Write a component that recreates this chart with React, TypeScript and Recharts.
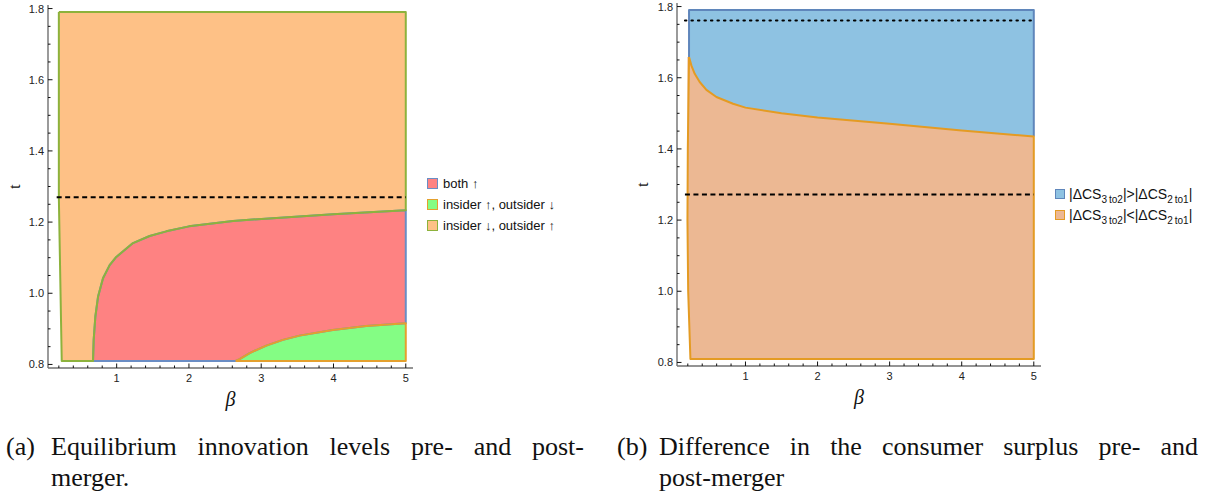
import React from 'react';
import { ComposedChart, Area, Line, XAxis, YAxis } from 'recharts';

// ---------- axis ticks ----------
const xTicks = [0.2, 0.4, 0.6, 0.8, 1, 1.2, 1.4, 1.6, 1.8, 2, 2.2, 2.4, 2.6, 2.8, 3, 3.2, 3.4, 3.6, 3.8, 4, 4.2, 4.4, 4.6, 4.8, 5];
const yTicks = [0.8, 0.85, 0.9, 0.95, 1, 1.05, 1.1, 1.15, 1.2, 1.25, 1.3, 1.35, 1.4, 1.45, 1.5, 1.55, 1.6, 1.65, 1.7, 1.75, 1.8];
const xDomain = [0.05, 5.1];
const yDomain = [0.79, 1.81];

// ---------- panel (a) data ----------
const aTMin = 0.81;
const aTMax = 1.79;
const aBetaMax = 5;
// left edge of the region plot
const aLeftEdgeBeta = [0.2, 0.2, 0.24];
const aLeftEdgeT = [1.79, 1.27, 0.81];
// upper boundary of "both ↑"
const aBothBeta = [0.673, 0.682, 0.705, 0.742, 0.811, 0.903, 0.995, 1.226, 1.456, 1.687, 2.0, 2.609, 3.006, 3.992, 5.0];
const aBothT = [0.81, 0.869, 0.934, 0.99, 1.042, 1.079, 1.102, 1.141, 1.161, 1.174, 1.188, 1.203, 1.209, 1.222, 1.233];
// upper boundary of "insider ↑, outsider ↓"
const aInsBeta = [2.646, 2.701, 2.84, 3.07, 3.3, 3.53, 3.99, 4.45, 5.0];
const aInsT = [0.81, 0.815, 0.832, 0.853, 0.869, 0.881, 0.897, 0.908, 0.916];
const aDashT = 1.27;
const aDashBeta = [0.17, 5.0];

// ---------- panel (b) data ----------
const bTMin = 0.81;
const bTMax = 1.79;
const bBetaMax = 5;
const bCurveBeta = [0.217, 0.25, 0.296, 0.365, 0.458, 0.597, 0.828, 1.0, 1.5, 2.0, 3.0, 4.0, 5.0];
const bCurveT = [1.658, 1.634, 1.611, 1.588, 1.566, 1.546, 1.527, 1.516, 1.5, 1.488, 1.471, 1.452, 1.435];
const bLeftEdgeBeta = [0.236, 0.205, 0.195, 0.2, 0.217];
const bLeftEdgeT = [0.81, 1.0, 1.2, 1.4, 1.658];
const bDashT = 1.272;
const bDotT = 1.761;
const bRefBeta = [0.16, 5.0];

// ---------- colours ----------
const A_ORANGE = '#fec186';
const A_RED = '#fe8282';
const A_GREEN = '#84fd84';
const OLIVE = '#8db23c';
const A_BLUE_EDGE = '#6a8dc4';
const A_ORANGE_EDGE = '#e4a02e';
const B_BLUE = '#8ec2e2';
const B_SALMON = '#ecb893';
const B_BLUE_EDGE = '#5f86bb';
const B_ORANGE_EDGE = '#e49b23';
const FRAME = '#707070';

const pts = (xs: number[], ys: number[]) => xs.map((x, i) => ({ x, y: ys[i] }));

// panel (a) tables
const aBoth = pts(aBothBeta, aBothT);
const aIns = pts(aInsBeta, aInsT);
const aOrangeFill = [
  { x: aLeftEdgeBeta[1], r: [aLeftEdgeT[1], aTMax] },
  { x: aLeftEdgeBeta[2], r: [aTMin, aTMax] },
  { x: aBetaMax, r: [aTMin, aTMax] },
];
const aRedFill = aBoth.map((p) => ({ x: p.x, r: [aTMin, p.y] }));
const aGreenFill = aIns.map((p) => ({ x: p.x, r: [aTMin, p.y] }));
const aBlueOutline = [
  { x: aBoth[0].x, y: aTMin },
  ...aIns,
  { x: aBetaMax, y: aBoth[aBoth.length - 1].y },
  ...[...aBoth].reverse(),
];
const aOrangeOutline = [...aIns, { x: aBetaMax, y: aTMin }, { x: aIns[0].x, y: aTMin }];
const aOliveOutline = [
  { x: aLeftEdgeBeta[0], y: aTMax },
  { x: aBetaMax, y: aTMax },
  ...[...aBoth].reverse(),
  ...pts(aLeftEdgeBeta, aLeftEdgeT).reverse(),
];
const aDash = aDashBeta.map((x) => ({ x, y: aDashT }));

// panel (b) tables
const bCurve = pts(bCurveBeta, bCurveT);
const bSalmonFill = [
  { x: bLeftEdgeBeta[2], r: [bLeftEdgeT[2], bCurveT[0]] },
  { x: bLeftEdgeBeta[1], r: [bLeftEdgeT[1], bCurveT[0]] },
  { x: bLeftEdgeBeta[0], r: [bTMin, bCurveT[0]] },
  { x: bBetaMax, r: [bTMin, bCurveT[0]] },
];
const bBlueFill = bCurve.map((p) => ({ x: p.x, r: [p.y, bTMax] }));
const bBlueOutline = [
  bCurve[0],
  { x: bCurve[0].x, y: bTMax },
  { x: bBetaMax, y: bTMax },
  bCurve[bCurve.length - 1],
];
const bOrangeOutline = [
  ...bCurve,
  { x: bBetaMax, y: bTMin },
  ...pts(bLeftEdgeBeta, bLeftEdgeT),
];
const bDash = bRefBeta.map((x) => ({ x, y: bDashT }));
const bDot = bRefBeta.map((x) => ({ x, y: bDotT }));

// ---------- tick renderers ----------
const isMajorX = (v: number) => Math.abs(v - Math.round(v)) < 1e-6;
const isMajorY = (v: number) => Math.abs(v * 5 - Math.round(v * 5)) < 1e-6;
const tickFont = { fontFamily: '"Liberation Sans", Arial, sans-serif', fontSize: 11, fill: '#222' };

const makeTick = (side: 'bottom' | 'top' | 'left' | 'right', labels: boolean) => (props: any) => {
  const { x, y, payload } = props;
  const v = payload.value as number;
  const major = side === 'bottom' || side === 'top' ? isMajorX(v) : isMajorY(v);
  const len = major ? 4.5 : 2.5;
  let x2 = x;
  let y2 = y;
  if (side === 'bottom') y2 = y - len;
  if (side === 'top') y2 = y + len;
  if (side === 'left') x2 = x + len;
  if (side === 'right') x2 = x - len;
  let label = null;
  if (labels && major) {
    if (side === 'bottom')
      label = (
        <text x={x} y={y + 14} textAnchor="middle" {...tickFont}>
          {String(Math.round(v))}
        </text>
      );
    if (side === 'left')
      label = (
        <text x={x - 4} y={y + 4} textAnchor="end" {...tickFont}>
          {v.toFixed(1)}
        </text>
      );
  }
  return (
    <g>
      <line x1={x} y1={y} x2={x2} y2={y2} stroke="#111" strokeWidth={1} />
      {label}
    </g>
  );
};

const axisLine = { stroke: FRAME, strokeWidth: 1.4 };

function renderAxes(yWidth: number, tOffset: number) {
  return [
    <XAxis
      key="xb"
      xAxisId={0}
      dataKey="x"
      type="number"
      domain={xDomain}
      allowDataOverflow
      ticks={xTicks}
      interval={0}
      tickSize={0}
      tickMargin={0}
      tickLine={false}
      axisLine={axisLine}
      tick={makeTick('bottom', true)}
      height={40}
      label={{
        value: 'β',
        position: 'insideBottom',
        offset: 2,
        style: { fontFamily: '"Liberation Serif", serif', fontStyle: 'italic', fontSize: 20, fill: '#111' },
      }}
    />,
    <XAxis
      key="xt"
      xAxisId="top"
      orientation="top"
      dataKey="x"
      type="number"
      domain={xDomain}
      allowDataOverflow
      ticks={xTicks}
      interval={0}
      tickSize={0}
      tickMargin={0}
      tickLine={false}
      axisLine={axisLine}
      tick={makeTick('top', false)}
      height={0}
    />,
    <YAxis
      key="yl"
      yAxisId={0}
      type="number"
      domain={yDomain}
      allowDataOverflow
      ticks={yTicks}
      interval={0}
      tickSize={0}
      tickMargin={0}
      tickLine={false}
      axisLine={axisLine}
      tick={makeTick('left', true)}
      width={yWidth}
      label={{
        value: 't',
        angle: -90,
        position: 'insideLeft',
        offset: tOffset,
        style: { fontFamily: '"Liberation Serif", serif', fontSize: 17, fill: '#111', textAnchor: 'middle' },
      }}
    />,
    <YAxis
      key="yr"
      yAxisId="right"
      orientation="right"
      type="number"
      domain={yDomain}
      allowDataOverflow
      ticks={yTicks}
      interval={0}
      tickSize={0}
      tickMargin={0}
      tickLine={false}
      axisLine={axisLine}
      tick={makeTick('right', false)}
      width={0}
    />,
  ];
}

const outline = (data: any[], color: string, key: string, width = 2) => (
  <Line
    key={key}
    data={data}
    dataKey="y"
    type="linear"
    stroke={color}
    strokeWidth={width}
    strokeLinejoin="round"
    dot={false}
    activeDot={false}
    isAnimationActive={false}
  />
);

function PanelA() {
  return (
    <ComposedChart width={420} height={418} margin={{ top: 5, right: 7, bottom: 10, left: 0 }} style={{ overflow: 'visible' }}>
      {renderAxes(48, 14)}
      <Area data={aOrangeFill} dataKey="r" type="linear" fill={A_ORANGE} fillOpacity={1} stroke="none" isAnimationActive={false} />
      <Area data={aRedFill} dataKey="r" type="linear" fill={A_RED} fillOpacity={1} stroke="none" isAnimationActive={false} />
      <Area data={aGreenFill} dataKey="r" type="linear" fill={A_GREEN} fillOpacity={1} stroke="none" isAnimationActive={false} />
      {outline(aBlueOutline, A_BLUE_EDGE, 'ab')}
      {outline(aOrangeOutline, A_ORANGE_EDGE, 'ao')}
      {outline(aOliveOutline, OLIVE, 'aol')}
      <Line data={aDash} dataKey="y" type="linear" stroke="#000" strokeWidth={2} strokeDasharray="5 3.5" dot={false} activeDot={false} isAnimationActive={false} />
    </ComposedChart>
  );
}

function PanelB() {
  return (
    <ComposedChart width={428} height={416} margin={{ top: 3, right: 7, bottom: 10, left: 0 }} style={{ overflow: 'visible' }}>
      {renderAxes(57, 22)}
      <Area data={bSalmonFill} dataKey="r" type="linear" fill={B_SALMON} fillOpacity={1} stroke="none" isAnimationActive={false} />
      <Area data={bBlueFill} dataKey="r" type="linear" fill={B_BLUE} fillOpacity={1} stroke="none" isAnimationActive={false} />
      {outline(bBlueOutline, B_BLUE_EDGE, 'bb')}
      {outline(bOrangeOutline, B_ORANGE_EDGE, 'bo')}
      <Line data={bDot} dataKey="y" type="linear" stroke="#000" strokeWidth={2} strokeDasharray="1.5 5" strokeLinecap="round" dot={false} activeDot={false} isAnimationActive={false} />
      <Line data={bDash} dataKey="y" type="linear" stroke="#000" strokeWidth={2} strokeDasharray="5 3.5" dot={false} activeDot={false} isAnimationActive={false} />
    </ComposedChart>
  );
}

const legendFont = { fontFamily: '"Liberation Sans", Arial, sans-serif', color: '#111' };

function Swatch({ fill, edge, size }: { fill: string; edge: string; size: number }) {
  return (
    <span
      style={{
        display: 'inline-block',
        width: size,
        height: size,
        boxSizing: 'border-box',
        background: fill,
        border: `1.5px solid ${edge}`,
      }}
    />
  );
}

const aLegend = [
  { label: 'both ↑', fill: A_RED, edge: A_BLUE_EDGE },
  { label: 'insider ↑, outsider ↓', fill: A_GREEN, edge: A_ORANGE_EDGE },
  { label: 'insider ↓, outsider ↑', fill: A_ORANGE, edge: OLIVE },
];

const sub = (s: string) => (
  <sub style={{ fontSize: 10, verticalAlign: 'baseline', position: 'relative', top: 4 }}>{s}</sub>
);

const bLegend = [
  {
    node: (
      <>
        |ΔCS{sub('3\u2009to2')}|&gt;|ΔCS{sub('2\u2009to1')}|
      </>
    ),
    fill: B_BLUE,
    edge: B_BLUE_EDGE,
  },
  {
    node: (
      <>
        |ΔCS{sub('3\u2009to2')}|&lt;|ΔCS{sub('2\u2009to1')}|
      </>
    ),
    fill: B_SALMON,
    edge: B_ORANGE_EDGE,
  },
];

const captionStyle: React.CSSProperties = {
  position: 'absolute',
  fontFamily: '"Liberation Serif", "Times New Roman", serif',
  fontSize: 26,
  lineHeight: '31px',
  color: '#111',
  whiteSpace: 'nowrap',
};

function Caption({ left, top, width, tag, tagW, line1, line2 }: any) {
  return (
    <div style={{ ...captionStyle, left, top, width }}>
      <div style={{ display: 'flex' }}>
        <span style={{ width: tagW, flex: 'none' }}>{tag}</span>
        <span style={{ flex: 1, textAlign: 'justify', textAlignLast: 'justify' as any, whiteSpace: 'normal' }}>{line1}</span>
      </div>
      <div style={{ paddingLeft: tagW }}>{line2}</div>
    </div>
  );
}

export default function App() {
  return (
    <div style={{ position: 'absolute', left: 0, top: 0, width: 1215, height: 493, background: '#fff', overflow: 'hidden' }}>
      <div style={{ position: 'absolute', left: 0, top: 0 }}>
        <PanelA />
      </div>
      <div style={{ position: 'absolute', left: 620, top: 0 }}>
        <PanelB />
      </div>

      {aLegend.map((e, i) => (
        <div
          key={i}
          style={{
            ...legendFont,
            position: 'absolute',
            left: 427,
            top: 174 + i * 21,
            height: 18,
            display: 'flex',
            alignItems: 'center',
            fontSize: 13,
            whiteSpace: 'nowrap',
          }}
        >
          <Swatch fill={e.fill} edge={e.edge} size={11} />
          <span style={{ marginLeft: 5 }}>{e.label}</span>
        </div>
      ))}

      {bLegend.map((e, i) => (
        <div
          key={i}
          style={{
            ...legendFont,
            position: 'absolute',
            left: 1055,
            top: 184 + i * 20.5,
            height: 20,
            display: 'flex',
            alignItems: 'center',
            fontSize: 14,
            whiteSpace: 'nowrap',
          }}
        >
          <Swatch fill={e.fill} edge={e.edge} size={10} />
          <span style={{ marginLeft: 4 }}>{e.node}</span>
        </div>
      ))}

      <Caption
        left={6}
        top={431}
        width={578}
        tag="(a)"
        tagW={45}
        line1="Equilibrium innovation levels pre- and post-"
        line2="merger."
      />
      <Caption
        left={617}
        top={431}
        width={581}
        tag="(b)"
        tagW={42}
        line1="Difference in the consumer surplus pre- and"
        line2="post-merger"
      />
    </div>
  );
}
